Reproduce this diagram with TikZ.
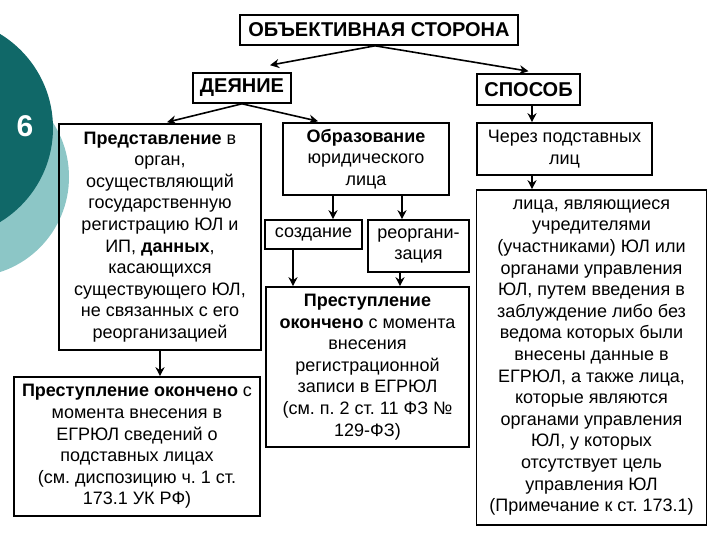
\documentclass[tikz,border=0pt]{standalone}
\usepackage{fontspec}
\setmainfont{Liberation Sans}
\usetikzlibrary{arrows.meta}
\definecolor{tealdark}{RGB}{16,104,104}
\definecolor{teallight}{RGB}{140,198,198}
\frenchspacing

\tikzset{
	box/.style={draw, line width=1.6pt, inner sep=0pt, align=center, font=\fontsize{18}{21.6}\selectfont},
	headbox/.style={box, font=\fontsize{20}{24}\selectfont\bfseries},
	arr/.style={line width=1.6pt, -{Stealth[length=9pt,width=9pt]}}
}

\begin{document}
\begin{tikzpicture}[x=1pt, y=-1pt]
			%%%%% START %%%%%
			\useasboundingbox (0,0) rectangle (720,540);
			
			\fill[teallight] (-31,177) circle (100pt);
			\fill[tealdark] (-57,128) circle (110pt);
			\node[text=white, font=\fontsize{30}{30}\selectfont\bfseries] (num) at (25,126) {6};
			
			\node[headbox, minimum width=278pt, minimum height=30pt] (obj) at (379,30) {ОБЪЕКТИВНАЯ СТОРОНА};
			\node[headbox, minimum width=98pt, minimum height=30pt] (deyanie) at (242,88) {ДЕЯНИЕ};
			\node[headbox, minimum width=103pt, minimum height=31pt] (sposob) at (528.5,89.5) {СПОСОБ};
			
			\node[box, minimum width=202pt, minimum height=226pt] (predst) at (160,237) {\textbf{Представление} в\\орган,\\осуществляющий\\государственную\\регистрацию ЮЛ и\\ИП, \textbf{данных},\\касающихся\\существующего ЮЛ,\\не связанных с его\\реорганизацией};
			\node[box, minimum width=246pt, minimum height=139pt] (prest1) at (137,446.5) {\textbf{Преступление окончено} с\\момента внесения в\\ЕГРЮЛ сведений о\\подставных лицах\\(см. диспозицию ч. 1 ст.\\173.1 УК РФ)};
			
			\node[box, minimum width=166pt, minimum height=72pt] (obraz) at (366,159) {\textbf{Образование}\\юридического\\лица};
			\node[box, minimum width=97pt, minimum height=29pt] (sozd) at (313.5,234.5) {создание};
			\node[box, minimum width=101pt, minimum height=52pt] (reorg) at (418.5,246) {реоргани-\\зация};
			\node[box, minimum width=203pt, minimum height=160pt] (prest2) at (367.5,367) {\textbf{Преступление}\\\textbf{окончено} с момента\\внесения\\регистрационной\\записи в ЕГРЮЛ\\(см. п. 2 ст. 11 ФЗ №\\129-ФЗ)};
			
			\node[box, minimum width=175pt, minimum height=52pt] (cherez) at (564.5,149) {Через подставных\\лиц};
			\node[box, minimum width=230pt, minimum height=335pt] (lica) at (591.5,357.5) {лица, являющиеся\\учредителями\\(участниками) ЮЛ или\\органами управления\\ЮЛ, путем введения в\\заблуждение либо без\\ведома которых были\\внесены данные в\\ЕГРЮЛ, а также лица,\\которые являются\\органами управления\\ЮЛ, у которых\\отсутствует цель\\управления ЮЛ\\(Примечание к ст. 173.1)};
			
			\draw[arr] ([xshift=-4pt]obj.south) -- ([xshift=28pt,yshift=7pt]deyanie.north);
			\draw[arr] ([xshift=-4pt]obj.south) -- ([yshift=2pt]sposob.north);
			
			\draw[arr] (deyanie.south) -- ([xshift=7pt,yshift=1pt]predst.north);
			\draw[arr] (deyanie.south) -- ([xshift=-48pt,yshift=1pt]obraz.north);
			\draw[arr] (predst.south) -- (predst.south |- prest1.north);
			
			\draw[arr] ([xshift=-33pt]obraz.south) -- ([xshift=-33pt]obraz.south |- sozd.north);
			\draw[arr] ([xshift=36pt]obraz.south) -- ([xshift=36pt]obraz.south |- reorg.north);
			\draw[arr] ([xshift=-20.5pt]sozd.south) -- ([xshift=-20.5pt]sozd.south |- prest2.north);
			\draw[arr] ([xshift=-18.5pt]reorg.south) -- ([xshift=-18.5pt]reorg.south |- prest2.north);
			
			\draw[arr] ([xshift=3.5pt]sposob.south) -- ([xshift=3.5pt]sposob.south |- cherez.north);
			\draw[arr] ([xshift=-32.5pt]cherez.south) -- ([xshift=-32.5pt]cherez.south |- lica.north);
			%%%%% END %%%%%
\end{tikzpicture}
\end{document}
